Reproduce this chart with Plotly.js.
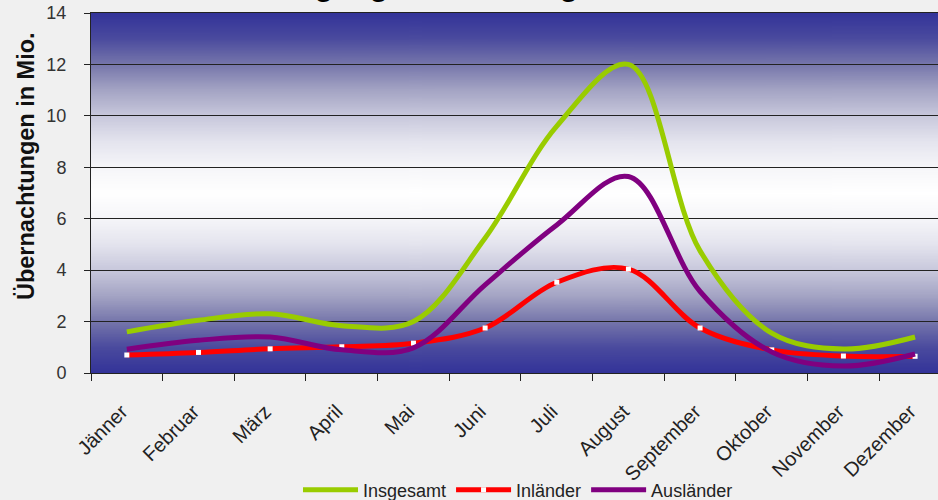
<!DOCTYPE html>
<html>
<head>
<meta charset="utf-8">
<script src="https://cdn.plot.ly/plotly-3.0.1.min.js"></script>
<style>
  html, body { margin: 0; padding: 0; background: #f0f0f0; }
  #chart { width: 938px; height: 500px; }
</style>
</head>
<body>
<div id="chart"></div>
<script>
// Monthly overnight stays (millions)
const months = ['Jänner', 'Februar', 'März', 'April', 'Mai', 'Juni', 'Juli', 'August', 'September', 'Oktober', 'November', 'Dezember'];
const insgesamt  = [1.6, 2.05, 2.3, 1.84, 2.0, 5.25, 9.6, 12.0, 4.75, 1.55, 0.93, 1.4];
const inlaender  = [0.7, 0.8, 0.94, 1.02, 1.16, 1.75, 3.53, 4.04, 1.75, 0.9, 0.66, 0.65];
const auslaender = [0.92, 1.27, 1.4, 0.9, 0.98, 3.43, 5.76, 7.64, 3.17, 0.82, 0.27, 0.74];

const seriesNames = ['Insgesamt', 'Inländer', 'Ausländer'];
const yTicks = [0, 2, 4, 6, 8, 10, 12, 14];

// Vertical blue-white-blue gradient used as the plot area background
function plotBackground() {
  const c = document.createElement('canvas');
  c.width = 4; c.height = 560;
  const g = c.getContext('2d');
  const grad = g.createLinearGradient(0, 0, 0, c.height);
  const stops = [
    [0.00, '#333399'], [0.07, '#4a4a9e'], [0.143, '#7676ab'], [0.214, '#a4a4c4'],
    [0.286, '#c8c8dc'], [0.357, '#e4e4ee'], [0.43, '#f6f6f9'], [0.50, '#ffffff'],
    [0.57, '#f6f6f9'], [0.643, '#e4e4ee'], [0.714, '#c8c8dc'], [0.786, '#a4a4c4'],
    [0.857, '#7676ab'], [0.93, '#4a4a9e'], [1.00, '#333399']
  ];
  stops.forEach(s => grad.addColorStop(s[0], s[1]));
  g.fillStyle = grad;
  g.fillRect(0, 0, c.width, c.height);
  return c.toDataURL();
}

const FONT = 'Liberation Sans, Arial, sans-serif';

const traces = [
  {
    x: months, y: insgesamt, name: seriesNames[0], type: 'scatter', mode: 'lines',
    line: { color: '#99cc00', width: 5, shape: 'spline', smoothing: 1 }
  },
  {
    x: months, y: inlaender, name: seriesNames[1], type: 'scatter', mode: 'lines+markers',
    line: { color: '#ff0000', width: 5, shape: 'spline', smoothing: 1 },
    marker: { symbol: 'square', size: 5, color: '#ffffff', line: { width: 0 } }
  },
  {
    x: months, y: auslaender, name: seriesNames[2], type: 'scatter', mode: 'lines',
    line: { color: '#800080', width: 5, shape: 'spline', smoothing: 1 }
  }
];

const layout = {
  width: 938, height: 500,
  margin: { l: 91, r: 0, t: 13, b: 127, autoexpand: false },
  paper_bgcolor: '#f0f0f0',
  plot_bgcolor: '#333399',
  font: { family: FONT, size: 18, color: '#222' },
  showlegend: true,
  legend: {
    orientation: 'h',
    xref: 'container', x: 0.3177, xanchor: 'left',
    yref: 'container', y: 0.02, yanchor: 'middle',
    font: { family: FONT, size: 18, color: '#222' },
    bgcolor: 'rgba(0,0,0,0)', itemwidth: 55, tracegroupgap: 0
  },
  xaxis: {
    type: 'category', range: [-0.5, 11.32], fixedrange: true, automargin: false,
    showgrid: false, zeroline: false,
    showline: true, mirror: true, linecolor: '#222', linewidth: 1,
    ticks: 'outside', tickson: 'boundaries', ticklen: 7, tickcolor: '#222',
    ticklabelstandoff: 18, ticklabelshift: -5,
    tickangle: -45, tickfont: { family: FONT, size: 20, color: '#222' }
  },
  yaxis: {
    range: [0, 14], tickvals: yTicks, fixedrange: true, automargin: false,
    showgrid: true, gridcolor: '#222', gridwidth: 1, zeroline: false,
    showline: true, linecolor: '#222', linewidth: 1,
    ticks: 'outside', ticklen: 6, tickcolor: '#222',
    ticklabelstandoff: 14,
    tickfont: { family: FONT, size: 18, color: '#333' }
  },
  images: [{
    source: plotBackground(), xref: 'paper', yref: 'paper',
    x: 0, y: 1, sizex: 1, sizey: 1, xanchor: 'left', yanchor: 'top',
    sizing: 'stretch', layer: 'below'
  }],
  annotations: [
    {
      text: 'Übernachtungen in Mio.', xref: 'paper', yref: 'paper',
      x: -0.0767, y: 0.575, xanchor: 'center', yanchor: 'middle',
      textangle: -90, showarrow: false,
      font: { family: FONT, size: 23.5, weight: 'bold', color: '#111' }
    },
    {
      text: 'Nächtigungsentwicklung', xref: 'paper', yref: 'paper',
      x: 0.1535, y: 1.0775, xanchor: 'left', yanchor: 'middle',
      showarrow: false,
      font: { family: FONT, size: 30, weight: 'bold', color: '#000' }
    }
  ]
};

Plotly.newPlot('chart', traces, layout, { displayModeBar: false, staticPlot: true });
</script>
</body>
</html>
